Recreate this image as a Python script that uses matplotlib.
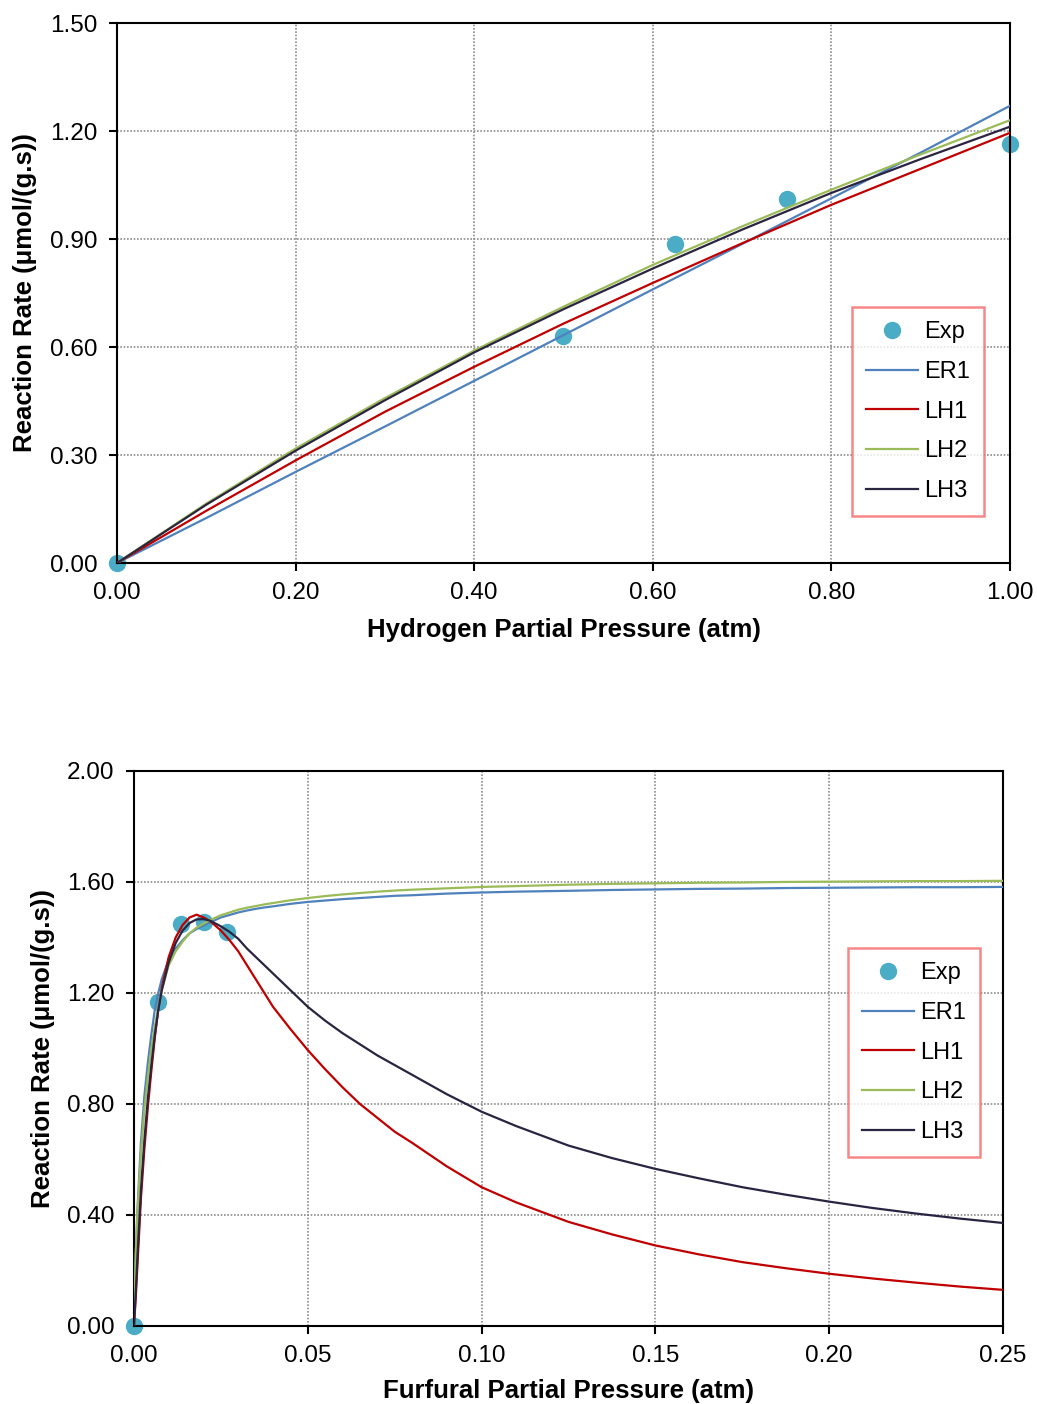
import matplotlib.pyplot as plt
import numpy as np

from matplotlib.figure import Figure
from matplotlib.axes import Axes

# ------------------------------
# Data: hydrogen partial pressure
# ------------------------------
h2_exp_x = [0.0, 0.5, 0.625, 0.75, 1.0]
h2_exp_y = [0.0, 0.63, 0.886, 1.011, 1.164]

h2_x = [0.0, 0.1, 0.2, 0.3, 0.4, 0.5, 0.6, 0.7, 0.8, 0.9, 1.0]
h2_er1 = [0.0, 0.125, 0.253, 0.379, 0.506, 0.633, 0.76, 0.886, 1.013, 1.14, 1.27]
h2_lh1 = [0.0, 0.145, 0.285, 0.42, 0.545, 0.665, 0.778, 0.888, 0.995, 1.095, 1.195]
h2_lh2 = [0.0, 0.165, 0.318, 0.458, 0.59, 0.712, 0.828, 0.935, 1.037, 1.135, 1.23]
h2_lh3 = [0.0, 0.162, 0.312, 0.452, 0.585, 0.705, 0.818, 0.926, 1.028, 1.122, 1.212]

# ------------------------------
# Data: furfural partial pressure
# ------------------------------
ff_exp_x = [0.0, 0.007, 0.0135, 0.0202, 0.0267]
ff_exp_y = [0.0, 1.168, 1.45, 1.456, 1.42]

ff_x = [0.0, 0.0005, 0.001, 0.002, 0.003, 0.004, 0.005, 0.006, 0.007, 0.008,
        0.01, 0.012, 0.014, 0.016, 0.018, 0.02, 0.022, 0.025, 0.0275, 0.03,
        0.0325, 0.035, 0.0375, 0.04, 0.045, 0.05, 0.055, 0.06, 0.065, 0.07,
        0.075, 0.08, 0.09, 0.1, 0.11, 0.125, 0.1375, 0.15, 0.1625, 0.175,
        0.1875, 0.2, 0.2125, 0.225, 0.2375, 0.25]
ff_er1 = [0.0, 0.25, 0.42, 0.66, 0.83, 0.95, 1.05, 1.14, 1.2, 1.25,
          1.32, 1.36, 1.39, 1.415, 1.43, 1.443, 1.455, 1.472, 1.481, 1.49,
          1.497, 1.503, 1.508, 1.512, 1.521, 1.528, 1.533, 1.538, 1.542, 1.546,
          1.55, 1.552, 1.558, 1.562, 1.565, 1.568, 1.571, 1.573, 1.575, 1.576,
          1.578, 1.579, 1.58, 1.581, 1.581, 1.582]
ff_lh1 = [0.0, 0.10, 0.22, 0.46, 0.64, 0.79, 0.92, 1.04, 1.14, 1.22,
          1.33, 1.40, 1.445, 1.472, 1.482, 1.472, 1.458, 1.425, 1.39, 1.35,
          1.30, 1.25, 1.20, 1.15, 1.07, 0.994, 0.925, 0.86, 0.80, 0.75,
          0.70, 0.66, 0.575, 0.50, 0.445, 0.375, 0.33, 0.29, 0.258, 0.23,
          0.208, 0.188, 0.171, 0.156, 0.142, 0.13]
ff_lh2 = [0.0, 0.26, 0.41, 0.62, 0.78, 0.90, 1.00, 1.08, 1.15, 1.21,
          1.30, 1.35, 1.385, 1.415, 1.435, 1.45, 1.463, 1.48, 1.49, 1.50,
          1.507, 1.513, 1.519, 1.524, 1.534, 1.542, 1.549, 1.555, 1.56, 1.565,
          1.569, 1.572, 1.577, 1.582, 1.585, 1.59, 1.593, 1.595, 1.597, 1.598,
          1.6, 1.601, 1.602, 1.603, 1.603, 1.604]
ff_lh3 = [0.0, 0.12, 0.25, 0.49, 0.67, 0.82, 0.94, 1.05, 1.14, 1.21,
          1.31, 1.38, 1.425, 1.452, 1.465, 1.466, 1.46, 1.44, 1.42, 1.395,
          1.36, 1.33, 1.30, 1.27, 1.21, 1.15, 1.10, 1.055, 1.015, 0.975,
          0.94, 0.905, 0.835, 0.772, 0.72, 0.65, 0.605, 0.566, 0.532, 0.50,
          0.473, 0.448, 0.425, 0.405, 0.387, 0.371]

# ------------------------------
# Styles
# ------------------------------
plt.rcParams["font.family"] = ["Liberation Sans", "DejaVu Sans"]
EXP_COLOR = "#4BACC6"
COLORS = {"ER1": "#4F81BD", "LH1": "#C00000", "LH2": "#9BBB59", "LH3": "#2A2440"}
LW = 1.6


def style_axis(ax: Axes, xticks, yticks, xlabel: str, xlab_y: float, ylab_x: float) -> None:
    ax.set_xlim(xticks[0], xticks[-1])
    ax.set_ylim(yticks[0], yticks[-1])
    ax.set_xticks(xticks)
    ax.set_yticks(yticks)
    ax.set_xticklabels([f"{t:.2f}" for t in xticks])
    ax.set_yticklabels([f"{t:.2f}" for t in yticks])
    ax.grid(True, color="#8c8c8c", linestyle=(0, (1, 1)), linewidth=1.2)
    ax.set_axisbelow(True)
    for sp in ax.spines.values():
        sp.set_linewidth(1.5)
        sp.set_color("black")
    ax.tick_params(direction="out", length=6, width=1.5, labelsize=17.5, pad=8)
    ax.set_xlabel(xlabel, fontsize=18.5, fontweight="bold", va="center")
    ax.set_ylabel("Reaction Rate (\u03bcmol/(g.s))", fontsize=18.5, fontweight="bold",
                  va="center")
    ax.xaxis.set_label_coords(0.5, xlab_y)
    ax.yaxis.set_label_coords(ylab_x, 0.5)


def draw_panel(ax: Axes, x, series, exp_x, exp_y, legend_anchor) -> None:
    ax.plot(exp_x, exp_y, "o", color=EXP_COLOR, markersize=11.5, label="Exp",
            zorder=2, clip_on=False)
    for name, y in series:
        ax.plot(x, y, color=COLORS[name], linewidth=LW, label=name, zorder=3)
    leg = ax.legend(loc="upper right", bbox_to_anchor=legend_anchor, fontsize=17,
                    frameon=True, fancybox=False, labelspacing=0.75,
                    handlelength=2.2, handletextpad=0.25, borderpad=0.6,
                    borderaxespad=0.0)
    leg.get_frame().set_edgecolor("#F26B6B")
    leg.get_frame().set_linewidth(1.8)


# ------------------------------
# Define Figure & Axes
# ------------------------------
fig: Figure = plt.figure(figsize=(10.37, 14.04), dpi=100)
ax1: Axes = fig.add_axes([0.1128, 0.599, 0.8611, 0.3846])
ax2: Axes = fig.add_axes([0.1292, 0.0556, 0.838, 0.3953])

draw_panel(ax1, h2_x,
           [("ER1", h2_er1), ("LH1", h2_lh1), ("LH2", h2_lh2), ("LH3", h2_lh3)],
           h2_exp_x, h2_exp_y, (0.971, 0.474))
style_axis(ax1, np.linspace(0.0, 1.0, 6), np.linspace(0.0, 1.5, 6),
           "Hydrogen Partial Pressure (atm)", -0.124, -0.103)

draw_panel(ax2, ff_x,
           [("ER1", ff_er1), ("LH1", ff_lh1), ("LH2", ff_lh2), ("LH3", ff_lh3)],
           ff_exp_x, ff_exp_y, (0.9735, 0.681))
style_axis(ax2, np.linspace(0.0, 0.25, 6), np.linspace(0.0, 2.0, 6),
           "Furfural Partial Pressure (atm)", -0.117, -0.1047)

# ------------------------------
# Save figure
# ------------------------------
fig.savefig("out.png", dpi=100)
